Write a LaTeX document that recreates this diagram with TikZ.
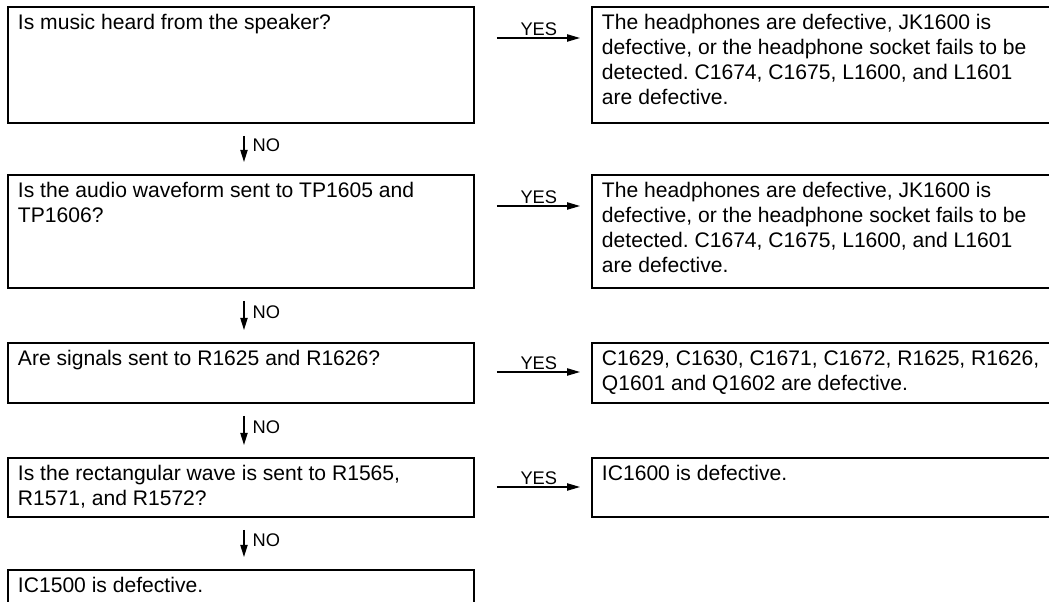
\documentclass[tikz,border=0pt]{standalone}
\usepackage{fontspec}
\setmainfont{Liberation Sans}
\usetikzlibrary{arrows.meta, positioning}

\newcommand{\boxtext}[3]{\parbox[t][#1][t]{#2}{\raggedright\frenchspacing #3}}

\begin{document}
\begin{tikzpicture}[
    every node/.style={font=\fontsize{15pt}{17.8pt}\selectfont},
    qbox/.style={rectangle, draw, line width=1.4pt, anchor=north west, inner xsep=0.25cm, inner ysep=0.19cm},
    yesarrow/.style={-{Triangle[length=0.32cm, width=0.18cm]}, line width=0.9pt, shorten <=0.55cm, shorten >=0.275cm},
    noarrow/.style={-{Triangle[length=0.3cm, width=0.18cm]}, line width=0.9pt, shorten <=0.3cm, shorten >=0.3cm},
    yeslbl/.style={font=\fontsize{13pt}{15pt}\selectfont, above, inner sep=1pt, pos=0.55},
    nolbl/.style={font=\fontsize{13pt}{15pt}\selectfont, right, inner xsep=0.2cm, inner ysep=0pt, pos=0.43}
]

\useasboundingbox (0,0) rectangle (26.225,-15.05);
\clip (0,0) rectangle (26.225,-15.05);

% ── Questions ──
\node[qbox] (q1) at (0.175, -0.15)   {\boxtext{2.52cm}{11.15cm}{Is music heard from the speaker?}};
\node[qbox] (q2) at (0.175, -4.35)   {\boxtext{2.445cm}{11.15cm}{Is the audio waveform sent to TP1605 and\\TP1606?}};
\node[qbox] (q3) at (0.175, -8.55)   {\boxtext{1.12cm}{11.15cm}{Are signals sent to R1625 and R1626?}};
\node[qbox] (q4) at (0.175, -11.425) {\boxtext{1.095cm}{11.15cm}{Is the rectangular wave is sent to R1565,\\R1571, and R1572?}};
\node[qbox] (q5) at (0.175, -14.225) {\boxtext{1.12cm}{11.15cm}{IC1500 is defective.}};

% ── Answers ──
\node[qbox] (a1) at (14.775, -0.15)   {\boxtext{2.52cm}{12.6cm}{The headphones are defective, JK1600 is\\defective, or the headphone socket fails to be\\detected. C1674, C1675, L1600, and L1601\\are defective.}};
\node[qbox] (a2) at (14.775, -4.35)   {\boxtext{2.445cm}{12.6cm}{The headphones are defective, JK1600 is\\defective, or the headphone socket fails to be\\detected. C1674, C1675, L1600, and L1601\\are defective.}};
\node[qbox] (a3) at (14.775, -8.55)   {\boxtext{1.12cm}{12.6cm}{C1629, C1630, C1671, C1672, R1625, R1626,\\Q1601 and Q1602 are defective.}};
\node[qbox] (a4) at (14.775, -11.425) {\boxtext{1.095cm}{12.6cm}{IC1600 is defective.}};

% ── YES branches ──
\draw[yesarrow] ([yshift=-0.8cm]q1.north east) -- node[yeslbl] (y1) {YES} ([yshift=-0.8cm]a1.north west);
\draw[yesarrow] ([yshift=-0.8cm]q2.north east) -- node[yeslbl] (y2) {YES} ([yshift=-0.8cm]a2.north west);
\draw[yesarrow] ([yshift=-0.75cm]q3.north east) -- node[yeslbl] (y3) {YES} ([yshift=-0.75cm]a3.north west);
\draw[yesarrow] ([yshift=-0.75cm]q4.north east) -- node[yeslbl] (y4) {YES} ([yshift=-0.75cm]a4.north west);

% ── NO branches ──
\draw[noarrow] ([xshift=0.075cm]q1.south) -- node[nolbl] (n1) {NO} ([xshift=0.075cm]q2.north);
\draw[noarrow] ([xshift=0.075cm]q2.south) -- node[nolbl] (n2) {NO} ([xshift=0.075cm]q3.north);
\draw[noarrow] ([xshift=0.075cm]q3.south) -- node[nolbl] (n3) {NO} ([xshift=0.075cm]q4.north);
\draw[noarrow] ([xshift=0.075cm]q4.south) -- node[nolbl] (n4) {NO} ([xshift=0.075cm]q5.north);

\end{tikzpicture}
\end{document}
